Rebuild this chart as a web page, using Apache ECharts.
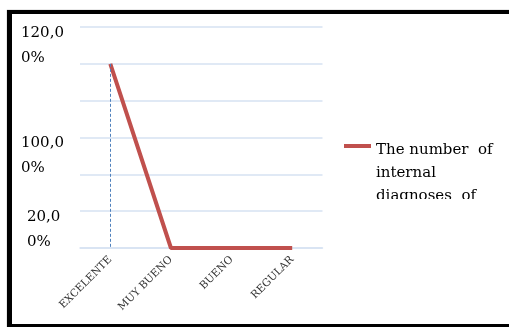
<!DOCTYPE html>
<html>
<head>
<meta charset="utf-8">
<script src="https://cdn.jsdelivr.net/npm/echarts@6/dist/echarts.min.js"></script>
<style>
  html, body { margin: 0; padding: 0; background: #fff; }
  #chart { position: absolute; left: 0; top: 0; width: 509px; height: 327px; }
  #frame {
    position: absolute; left: 7px; top: 10px; width: 620px; height: 318px;
    box-sizing: border-box; border-style: solid; border-color: #000;
    border-width: 4px 0 4px 5px; box-shadow: 0 0 1px #777; pointer-events: none;
  }
</style>
</head>
<body>
<div id="chart"></div>
<div id="frame"></div>
<script>
// Rating categories and share of internal diagnoses (%)
const categories = ['EXCELENTE', 'MUY BUENO', 'BUENO', 'REGULAR'];
const values = [100, 0, 0, 0];
const seriesName = 'The number  of internal diagnoses  of';

// Value-axis text, keyed by the tick value it sits on
const yTickValues = [110, 50, 10];
const yTickLabels = [['120,0', '0%'], ['100,0', '0%'], ['20,0', '0%']];

const chart = echarts.init(document.getElementById('chart'), null, { renderer: 'canvas' });

const serif = 'DejaVu Serif';
const gridColor = '#d6e2f2';
const textColor = '#000';

chart.setOption({
  animation: false,
  backgroundColor: '#fff',
  grid: { left: 80, right: 186.5, top: 27, bottom: 79, containLabel: false },
  legend: {
    left: 344,
    top: 138.5,
    padding: 0,
    itemWidth: 27,
    itemHeight: 58,
    icon: 'path://M0,0H27V4H0Z M0,57.9H0.1V58H0Z',
    itemStyle: { borderWidth: 0 },
    textStyle: {
      fontFamily: serif, fontSize: 15, color: textColor,
      width: 128, overflow: 'break', lineHeight: 23
    },
    data: [seriesName]
  },
  xAxis: {
    type: 'category',
    data: categories,
    boundaryGap: true,
    axisLine: { show: true, lineStyle: { color: gridColor, width: 1.5 } },
    axisTick: { show: false },
    axisLabel: {
      rotate: 45, margin: 10, interval: 0,
      fontFamily: serif, fontSize: 10.5, color: '#333'
    },
    splitLine: { show: false }
  },
  yAxis: [
    {
      type: 'value', min: 0, max: 120, interval: 20,
      axisLine: { show: false }, axisTick: { show: false },
      axisLabel: { show: false },
      splitLine: { show: true, lineStyle: { color: gridColor, width: 1.5 } }
    },
    {
      type: 'value', min: 0, max: 120, interval: 10, position: 'left',
      axisLine: { show: false }, axisTick: { show: false },
      splitLine: { show: false },
      axisLabel: {
        align: 'left', margin: 59,
        fontFamily: serif, fontSize: 15, color: textColor, lineHeight: 25,
        formatter: function (v) {
          const i = yTickValues.indexOf(v);
          if (i < 0) return '';
          const key = yTickLabels[i][0].length < 5 ? 'b' : 'a';
          return yTickLabels[i].map(function (s) { return '{' + key + '|' + s + '}'; }).join('\n');
        },
        rich: {
          a: { fontFamily: serif, fontSize: 15, color: textColor, lineHeight: 25 },
          b: { fontFamily: serif, fontSize: 15, color: textColor, lineHeight: 25, padding: [0, 0, 0, 6] }
        }
      }
    }
  ],
  series: [{
    name: seriesName,
    type: 'line',
    data: values,
    symbol: 'none',
    color: '#c0504d',
    lineStyle: { color: '#c0504d', width: 4, cap: 'butt' },
    markLine: {
      silent: true,
      symbol: 'none',
      label: { show: false },
      lineStyle: { color: '#4f81bd', type: [3, 2], width: 1 },
      data: [[
        { coord: [categories[0], values[0]] },
        { coord: [categories[0], 0] }
      ]]
    }
  }],
  graphic: [{
    // the legend box ends partway through its third line
    type: 'rect', left: 340, top: 199, z: 100,
    shape: { width: 165, height: 22 },
    style: { fill: '#fff' }
  }]
});
</script>
</body>
</html>
